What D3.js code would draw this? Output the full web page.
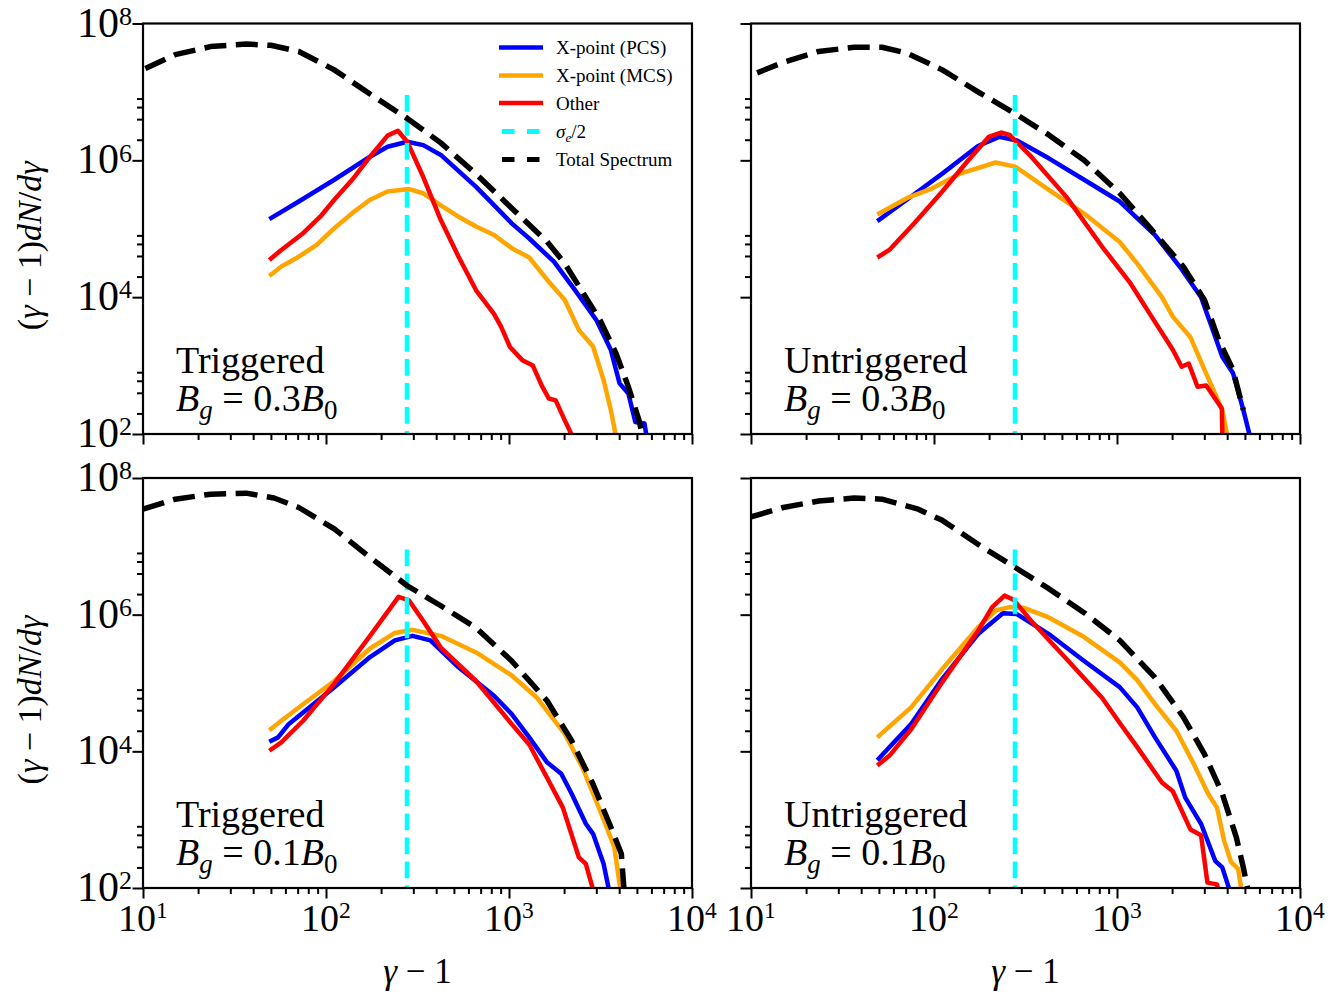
<!DOCTYPE html>
<html>
<head>
<meta charset="utf-8">
<script src="https://cdn.jsdelivr.net/npm/d3@7"></script>
<style>
  body { margin: 0; background: #fff; }
  text { font-family: "Liberation Serif", "Times New Roman", serif; fill: #000; }
</style>
</head>
<body>
<script>
// ---- data: [gamma-1, (gamma-1)dN/dgamma] ----
const sigmaHalf = 277;
const sigmaTop = 9e6;
const xMajor = [1e1, 1e2, 1e3, 1e4];
const yMajor = [1e2, 1e4, 1e6, 1e8];
const legendNames = ["X-point (PCS)", "X-point (MCS)", "Other", "σ/2", "Total Spectrum"];

// top left: Triggered, Bg = 0.3 B0
const tlPCS = [[49,1.38e5],[71,2.5e5],[111,5.2e5],[174,1.13e6],[217,1.58e6],[278,1.87e6],[340,1.67e6],[424,1.2e6],[661,4.1e5],[1035,1.2e5],[1290,7.2e4],[1760,3.3e4],[2300,1.26e4],[3005,4.6e3],[3600,1.7e3],[4020,550],[4490,390],[4900,150],[5500,142],[5700,80]];
const tlMCS = [[49,2.04e4],[57,2.8e4],[71,3.9e4],[89,5.8e4],[111,1.02e5],[139,1.69e5],[174,2.65e5],[217,3.5e5],[284,3.8e5],[340,3.3e5],[424,2.2e5],[530,1.5e5],[661,1.08e5],[828,8.1e4],[1035,5.2e4],[1290,3.8e4],[1614,1.8e4],[2018,9.1e3],[2410,3.3e3],[2880,1.9e3],[3290,610],[3600,225],[3880,80]];
const tlOther = [[49,3.5e4],[57,4.9e4],[75,8.6e4],[93,1.5e5],[111,2.65e5],[139,5.2e5],[174,1.13e6],[217,2.3e6],[247,2.7e6],[278,1.87e6],[340,5.7e5],[424,1.34e5],[530,3.9e4],[661,1.26e4],[828,5.7e3],[905,3.7e3],[1012,1.87e3],[1183,1.2e3],[1350,1.0e3],[1510,510],[1650,330],[1800,310],[2018,158],[2280,80]];
const tlTotal = [[10.3,2.2e7],[15,3.5e7],[23.4,4.6e7],[36.6,5.0e7],[50,4.8e7],[71,3.9e7],[111,2.1e7],[174,9.3e6],[278,4.1e6],[424,1.8e6],[661,6.3e5],[1035,2.0e5],[1614,6.5e4],[2018,3.1e4],[2518,1.2e4],[3147,4.6e3],[3846,1.5e3],[4490,490],[5130,160],[5450,80]];

// top right: Untriggered, Bg = 0.3 B0
const trPCS = [[49,1.29e5],[71,2.65e5],[111,6.4e5],[174,1.62e6],[227,2.2e6],[284,1.95e6],[424,1.07e6],[661,5.2e5],[1035,2.5e5],[1614,8.1e4],[2200,2.8e4],[2880,1.0e4],[3290,3.7e3],[3760,1.35e3],[4300,780],[4900,225],[5400,80]];
const trMCS = [[49,1.62e5],[71,2.8e5],[98,3.9e5],[139,6.4e5],[217,9.3e5],[278,8.1e5],[424,3.7e5],[661,1.67e5],[1035,6.4e4],[1290,3.1e4],[1760,1.0e4],[2018,5.2e3],[2518,2.6e3],[3005,870],[3760,225],[4060,80]];
const trOther = [[49,3.8e4],[57,4.9e4],[78,1.2e5],[111,3.5e5],[152,9.6e5],[199,2.2e6],[232,2.55e6],[259,2.35e6],[340,1.13e6],[530,2.9e5],[828,5.5e4],[1183,1.6e4],[1545,5.2e3],[2018,1.7e3],[2255,960],[2466,1.07e3],[2755,490],[3075,510],[3740,235],[3770,80]];
const trTotal = [[10.8,1.9e7],[15,2.7e7],[23.4,3.9e7],[36.6,4.5e7],[52,4.5e7],[71,3.7e7],[111,2.1e7],[174,1.0e7],[278,4.8e6],[424,2.35e6],[661,1.0e6],[1035,3.3e5],[1614,8.5e4],[2300,2.8e4],[3005,9.1e3],[3600,2.35e3],[4300,870],[4900,225]];

// bottom left: Triggered, Bg = 0.1 B0
const blPCS = [[49,1.38e4],[54.7,1.6e4],[62.5,2.5e4],[75,3.7e4],[111,8.7e4],[174,2.4e5],[238,4.2e5],[297,4.9e5],[372,4.2e5],[530,1.7e5],[828,6.5e4],[1035,3.5e4],[1290,1.6e4],[1614,6.9e3],[1930,4.7e3],[2200,2.4e3],[2630,870],[2880,620],[3290,225],[3560,80]];
const blMCS = [[49,2.04e4],[57,2.8e4],[75,4.9e4],[111,1.07e5],[174,3.2e5],[238,5.4e5],[297,6.0e5],[424,4.9e5],[661,2.8e5],[1035,1.29e5],[1413,6.2e4],[2018,1.8e4],[2518,5.8e3],[3147,1.35e3],[3760,400],[4100,80]];
const blOther = [[49,1.02e4],[57,1.35e4],[75,2.8e4],[111,9.8e4],[174,4.9e5],[249,1.82e6],[284,1.62e6],[340,8.1e5],[424,3.3e5],[661,1.07e5],[1035,2.5e4],[1290,1.26e4],[1614,4.1e3],[1970,1.5e3],[2410,280],[2630,225],[2930,80]];
const blTotal = [[10,3.5e7],[15,4.9e7],[23.4,5.8e7],[36.6,6.0e7],[52,5.1e7],[71,3.7e7],[111,1.8e7],[174,6.9e6],[278,2.65e6],[424,1.35e6],[661,6.4e5],[1035,2.1e5],[1614,5.5e4],[2200,1.43e4],[2880,3.3e3],[3600,780],[4110,316],[4270,80]];

// bottom right: Untriggered, Bg = 0.1 B0
const brPCS = [[49,7.4e3],[57,1.15e4],[75,2.5e4],[111,1.15e5],[174,5.2e5],[238,1.05e6],[284,1.02e6],[424,5.2e5],[661,2.1e5],[1035,8.7e4],[1290,4.4e4],[1614,1.6e4],[2110,5.2e3],[2360,2.1e3],[2880,870],[3440,250],[3760,200],[4200,80]];
const brMCS = [[49,1.6e4],[57,2.3e4],[75,4.4e4],[111,1.6e5],[174,6.5e5],[217,1.15e6],[259,1.29e6],[310,1.26e6],[424,9.1e5],[661,4.7e5],[1035,2.0e5],[1290,1.1e5],[1614,4.9e4],[2110,2.0e4],[2630,6.5e3],[3147,2.4e3],[3520,1.5e3],[3850,490],[4200,240],[4590,190],[4830,80]];
const brOther = [[49,6.2e3],[57,8.6e3],[75,2.1e4],[111,1.03e5],[174,5.8e5],[208,1.29e6],[243,1.9e6],[272,1.65e6],[340,8.1e5],[530,2.25e5],[828,6.1e4],[1035,2.6e4],[1290,1.15e4],[1760,3.5e3],[2018,2.6e3],[2518,720],[2880,590],[3120,120],[3520,113],[3620,80]];
const brTotal = [[10,2.7e7],[15,3.7e7],[23.4,4.6e7],[36.6,5.1e7],[52,4.9e7],[82,3.5e7],[111,2.4e7],[174,1.07e7],[278,4.9e6],[424,2.4e6],[661,1.07e6],[1035,4.2e5],[1614,1.2e5],[2300,3.2e4],[3005,9.1e3],[3760,2.4e3],[4490,550],[4900,200],[5250,80]];

const panels = [
  {col: 0, row: 0, name: "Triggered",   bg: "0.3", pcs: tlPCS, mcs: tlMCS, other: tlOther, total: tlTotal},
  {col: 1, row: 0, name: "Untriggered", bg: "0.3", pcs: trPCS, mcs: trMCS, other: trOther, total: trTotal},
  {col: 0, row: 1, name: "Triggered",   bg: "0.1", pcs: blPCS, mcs: blMCS, other: blOther, total: blTotal},
  {col: 1, row: 1, name: "Untriggered", bg: "0.1", pcs: brPCS, mcs: brMCS, other: brOther, total: brTotal}
];

// ---- layout ----
const W = 1343, H = 993;
const colX = [[143, 692], [751, 1300]];
const rowY = [[23.5, 434], [478, 888]];
const colors = {pcs: "#0000ff", mcs: "#ffa500", other: "#ff0000", sigma: "#00ffff", total: "#000000"};

const svg = d3.select("body").append("svg")
  .attr("width", W)
  .attr("height", H);

const line = d3.line();

function supLabel(sel, base, exp, size, rise) {
  sel.append("tspan").text(base);
  sel.append("tspan")
    .attr("dy", -size * rise)
    .attr("font-size", size * 0.62)
    .text(exp);
}

panels.forEach((p, i) => {
  const [x0, x1] = colX[p.col];
  const [y0, y1] = rowY[p.row];

  const x = d3.scaleLog().domain([1e1, 1e4]).range([x0, x1]);
  const y = d3.scaleLog().domain([1e2, 1e8]).range([y1, y0]);

  const g = svg.append("g");

  g.append("clipPath").attr("id", "clip" + i)
    .append("rect")
    .attr("x", x0).attr("y", y0)
    .attr("width", x1 - x0).attr("height", y1 - y0);

  const plot = g.append("g").attr("clip-path", "url(#clip" + i + ")");

  // spectra
  ["pcs", "mcs", "other"].forEach(k => {
    plot.append("path")
      .attr("d", line(p[k].map(d => [x(d[0]), y(d[1])])))
      .attr("fill", "none")
      .attr("stroke", colors[k])
      .attr("stroke-width", 4.5)
      .attr("stroke-linejoin", "round");
  });

  // sigma_e / 2 marker
  plot.append("path")
    .attr("d", line([[x(sigmaHalf), y(sigmaTop)], [x(sigmaHalf), y(1e2)]]))
    .attr("stroke", colors.sigma)
    .attr("stroke-width", 4.5)
    .attr("stroke-dasharray", "16.8,7.2");

  // total spectrum
  plot.append("path")
    .attr("d", line(p.total.map(d => [x(d[0]), y(d[1])])))
    .attr("fill", "none")
    .attr("stroke", colors.total)
    .attr("stroke-width", 5.5)
    .attr("stroke-dasharray", "22,9.5")
    .attr("stroke-linejoin", "round");

  // axes: ticks only, frame drawn separately
  const xMinor = [];
  [1e1, 1e2, 1e3].forEach(dec => { for (let m = 2; m <= 9; m++) xMinor.push(m * dec); });
  const yMinor = [];
  [1e2, 1e4, 1e6].forEach(dec => [2, 4, 6, 8].forEach(m => yMinor.push(m * dec)));

  const axX = g.append("g").attr("transform", "translate(0," + y1 + ")");
  axX.append("g").call(d3.axisBottom(x).tickValues(xMajor).tickSize(10.5).tickFormat(""));
  axX.append("g").call(d3.axisBottom(x).tickValues(xMinor).tickSize(6).tickFormat(""));

  const axY = g.append("g").attr("transform", "translate(" + x0 + ",0)");
  axY.append("g").call(d3.axisLeft(y).tickValues(yMajor).tickSize(10.5).tickFormat(""));
  axY.append("g").call(d3.axisLeft(y).tickValues(yMinor).tickSize(6).tickFormat(""));

  g.selectAll(".domain").remove();
  g.selectAll(".tick line").attr("stroke", "#000").attr("stroke-width", 2);

  g.append("rect")
    .attr("x", x0).attr("y", y0)
    .attr("width", x1 - x0).attr("height", y1 - y0)
    .attr("fill", "none")
    .attr("stroke", "#000")
    .attr("stroke-width", 2.2);

  // tick labels
  if (p.col === 0) {
    const fsY = 42;
    yMajor.forEach(v => {
      const t = g.append("text")
        .attr("x", x0 - 11)
        .attr("y", y(v) + 13)
        .attr("text-anchor", "end")
        .attr("font-size", fsY);
      supLabel(t, "10", String(Math.round(Math.log10(v))), fsY, 0.28);
    });
    g.append("text")
      .attr("transform", "translate(41," + ((y0 + y1) / 2 + 17) + ") rotate(-90)")
      .attr("text-anchor", "middle")
      .attr("font-size", 34)
      .call(t => {
        t.append("tspan").text("(");
        t.append("tspan").attr("font-style", "italic").text("γ");
        t.append("tspan").text(" − 1)");
        t.append("tspan").attr("font-style", "italic").text("dN");
        t.append("tspan").text("/");
        t.append("tspan").attr("font-style", "italic").text("dγ");
      });
  }
  if (p.row === 1) {
    const fsX = 38;
    xMajor.forEach(v => {
      const t = g.append("text")
        .attr("x", x(v))
        .attr("y", y1 + 43)
        .attr("text-anchor", "middle")
        .attr("font-size", fsX);
      supLabel(t, "10", String(Math.round(Math.log10(v))), fsX, 0.33);
    });
    g.append("text")
      .attr("x", (x0 + x1) / 2)
      .attr("y", 983)
      .attr("text-anchor", "middle")
      .attr("font-size", 35)
      .call(t => {
        t.append("tspan").attr("font-style", "italic").text("γ");
        t.append("tspan").text(" − 1");
      });
  }

  // panel annotation
  g.append("text")
    .attr("x", x0 + 33)
    .attr("y", y1 - 61)
    .attr("font-size", 38)
    .text(p.name);
  g.append("text")
    .attr("x", x0 + 33)
    .attr("y", y1 - 23)
    .attr("font-size", 38)
    .call(t => {
      t.append("tspan").attr("font-style", "italic").text("B");
      t.append("tspan").attr("font-style", "italic").attr("font-size", 27).attr("dy", 8).text("g");
      t.append("tspan").attr("dy", -8).text(" = " + p.bg);
      t.append("tspan").attr("font-style", "italic").text("B");
      t.append("tspan").attr("font-size", 27).attr("dy", 8).text("0");
    });

  // legend in the first panel
  if (i === 0) {
    const keys = ["pcs", "mcs", "other", "sigma", "total"];
    const lx0 = 499, lx1 = 543, ly = [47.5, 75.5, 103, 131.5, 159.5];
    keys.forEach((k, j) => {
      const dashed = k === "sigma" || k === "total";
      g.append("line")
        .attr("x1", dashed ? lx0 + 3 : lx0).attr("x2", lx1)
        .attr("y1", ly[j]).attr("y2", ly[j])
        .attr("stroke", colors[k])
        .attr("stroke-width", dashed ? 5 : 4.5)
        .attr("stroke-dasharray", dashed ? "12.5,12.5" : null);
      const t = g.append("text")
        .attr("x", 556)
        .attr("y", ly[j] + 6.5)
        .attr("font-size", 19);
      if (k === "sigma") {
        t.append("tspan").attr("font-style", "italic").text("σ");
        t.append("tspan").attr("font-style", "italic").attr("font-size", 13).attr("dy", 4).text("e");
        t.append("tspan").attr("dy", -4).text("/2");
      } else {
        t.text(legendNames[j]);
      }
    });
  }
});
</script>
</body>
</html>
